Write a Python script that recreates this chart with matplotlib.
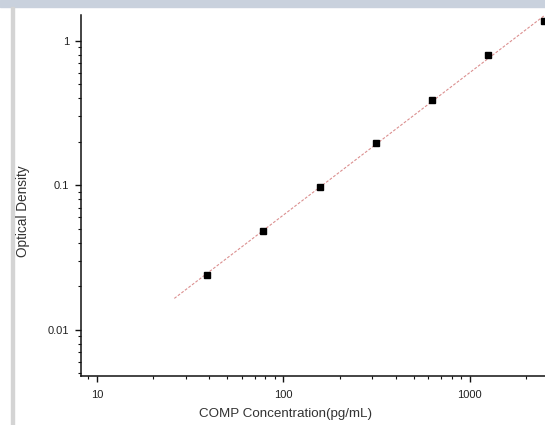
import numpy as np
import matplotlib
matplotlib.use("Agg")
import matplotlib.pyplot as plt
from matplotlib.ticker import LogLocator, FixedLocator, FixedFormatter, NullFormatter

# data
concentration = [39.06, 78.125, 156.25, 312.5, 625, 1250, 2500]
optical_density = [0.024, 0.048, 0.097, 0.196, 0.389, 0.796, 1.37]
x_ticks = [10, 100, 1000]
x_tick_labels = ["10", "100", "1000"]
y_ticks = [0.01, 0.1, 1]
y_tick_labels = ["0.01", "0.1", "1"]

plt.rcParams['font.family'] = ['Liberation Sans', 'DejaVu Sans']

fig = plt.figure(figsize=(5.45, 4.25), dpi=100)
fig.patch.set_facecolor('white')

# decorations: top band and left grey line
fig.add_artist(plt.Rectangle((0, 1 - 7/425), 1, 7/425, transform=fig.transFigure,
                             color='#c9d1dd', zorder=0))
fig.add_artist(plt.Rectangle((11/545, 0), 3/545, 1 - 7/425, transform=fig.transFigure,
                             color='#d4d4d4', zorder=0))

ax = fig.add_axes([80.7/545, (425-375.7)/425, 1 - 80.7/545, (375.7-15)/425])
ax.set_xscale('log')
ax.set_yscale('log')
ax.set_xlim(8.18, 2530)
ax.set_ylim(0.0048, 1.505)

# fit line in log-log space
lx = np.log10(concentration)
ly = np.log10(optical_density)
slope, intercept = np.polyfit(lx, ly, 1)
xf = np.logspace(np.log10(26), np.log10(3000), 200)
yf = 10 ** (intercept + slope * np.log10(xf))
ax.plot(xf, yf, color='#cc6060', lw=0.8, ls=(0, (2.5, 1.5)), alpha=0.7, zorder=2)

ax.plot(concentration, optical_density, 's', color='black', markersize=4.3, zorder=3,
        clip_on=False)

for s in ['top', 'right']:
    ax.spines[s].set_visible(False)
for s in ['left', 'bottom']:
    ax.spines[s].set_linewidth(1.1)
    ax.spines[s].set_color('#111111')

ax.xaxis.set_major_locator(FixedLocator(x_ticks))
ax.xaxis.set_major_formatter(FixedFormatter(x_tick_labels))
ax.yaxis.set_major_locator(FixedLocator(y_ticks))
ax.yaxis.set_major_formatter(FixedFormatter(y_tick_labels))
ax.xaxis.set_minor_locator(LogLocator(base=10, subs=np.arange(2, 10)))
ax.yaxis.set_minor_locator(LogLocator(base=10, subs=np.arange(2, 10)))
ax.xaxis.set_minor_formatter(NullFormatter())
ax.yaxis.set_minor_formatter(NullFormatter())

ax.tick_params(which='major', direction='out', length=4.5, width=1.0, labelsize=8,
               colors='#111111', labelcolor='#222222')
ax.tick_params(axis='x', which='major', pad=6)
ax.tick_params(axis='y', which='major', pad=4)
ax.tick_params(which='minor', direction='out', length=2.5, width=0.8, colors='#111111')

ax.set_xlabel('COMP Concentration(pg/mL)', fontsize=9.6, color='#333333')
ax.set_ylabel('Optical Density', fontsize=9.8, color='#333333')
ax.xaxis.set_label_coords((286 - 80.7) / 464.3, -(408 - 375.7) / 360.7)
ax.yaxis.set_label_coords((30 - 80.7) / 464.3, (375.7 - 211) / 360.7)

fig.savefig('out.png', dpi=100)
